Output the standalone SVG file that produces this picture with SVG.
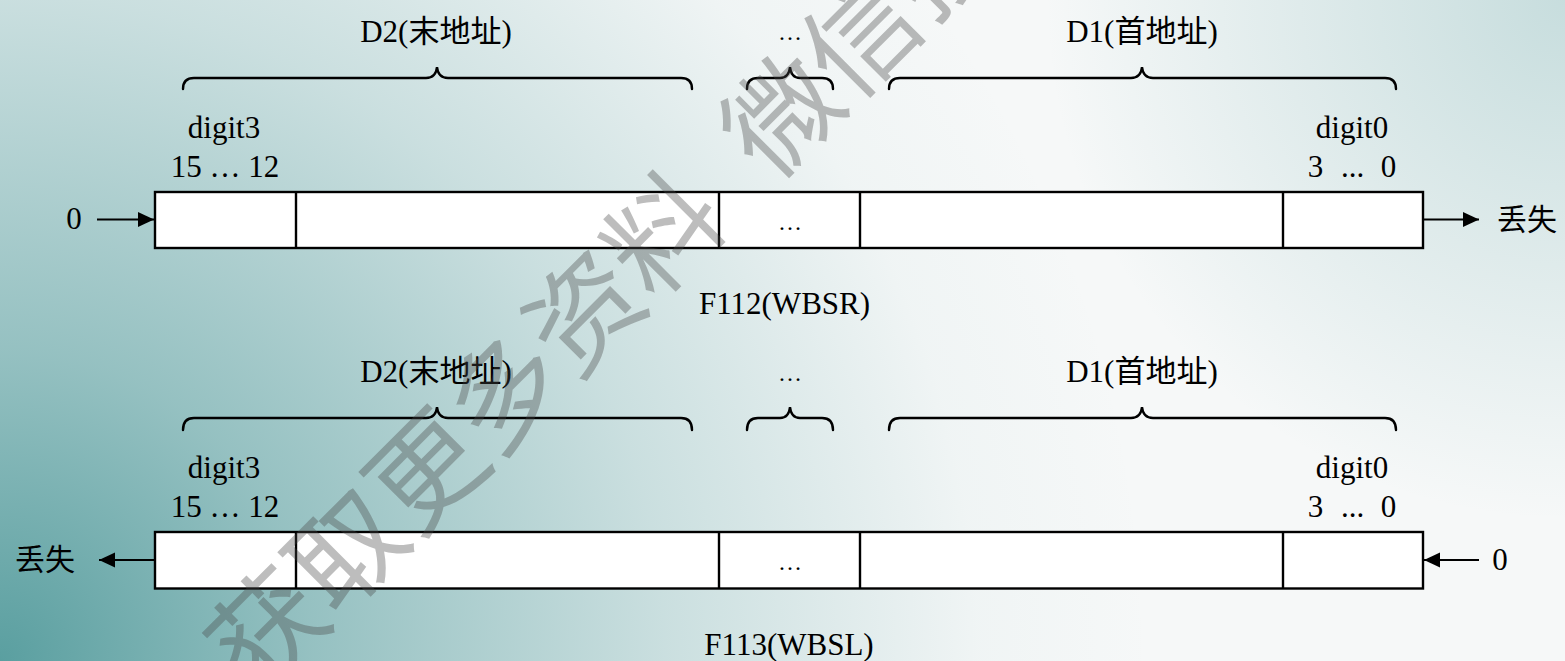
<svg xmlns="http://www.w3.org/2000/svg" width="1565" height="661" viewBox="0 0 1565 661">
<style>
.t{font-family:"Liberation Serif","Noto Sans CJK SC",serif;font-size:31px;fill:#000;text-anchor:middle}
.cjk{font-family:"Noto Sans CJK SC","Liberation Serif",sans-serif;font-size:30px;fill:#000;text-anchor:middle}
.sm{font-family:"Liberation Serif",serif;font-size:24px;fill:#000;text-anchor:middle}
.cell{fill:#fff;stroke:#000;stroke-width:2.4}
.div{stroke:#000;stroke-width:2.4;fill:none}
.brace{fill:none;stroke:#000;stroke-width:2.4;stroke-linecap:round}
.conn{stroke:#000;stroke-width:2.2;fill:none}
.wm{font-family:"Noto Sans CJK SC",sans-serif;font-size:112px;fill:#484848;fill-opacity:0.36}
</style>
<defs>
<radialGradient id="bgBL" gradientUnits="userSpaceOnUse" cx="0" cy="661" r="1150">
<stop offset="0" stop-color="#5a9fa0" stop-opacity="1"/>
<stop offset="0.27" stop-color="#5a9fa0" stop-opacity="0.62"/>
<stop offset="0.58" stop-color="#5a9fa0" stop-opacity="0.28"/>
<stop offset="0.85" stop-color="#5a9fa0" stop-opacity="0.04"/>
<stop offset="1" stop-color="#5a9fa0" stop-opacity="0"/>
</radialGradient>
<radialGradient id="bgTR" gradientUnits="userSpaceOnUse" cx="1565" cy="0" r="520">
<stop offset="0" stop-color="#5a9fa0" stop-opacity="0.3"/>
<stop offset="1" stop-color="#5a9fa0" stop-opacity="0"/>
</radialGradient>
<marker id="ah" markerWidth="17" markerHeight="17" viewBox="0 0 17 17" refX="16" refY="8.5" orient="auto" markerUnits="userSpaceOnUse">
<path d="M0,1 L16,8.5 L0,16 Z" fill="#000"/>
</marker>
</defs>
<rect x="0" y="0" width="1565" height="661" fill="#f6f8f8"/>
<rect x="0" y="0" width="1565" height="661" fill="url(#bgBL)"/>
<rect x="0" y="0" width="1565" height="661" fill="url(#bgTR)"/>

<g id="wbsr-register">
<rect class="cell" x="155" y="192" width="1268" height="56"/>
<line class="div" x1="296" y1="192" x2="296" y2="248"/>
<line class="div" x1="719" y1="192" x2="719" y2="248"/>
<line class="div" x1="860" y1="192" x2="860" y2="248"/>
<line class="div" x1="1283" y1="192" x2="1283" y2="248"/>
<text class="sm" x="790" y="230">…</text>
<text class="t" x="784.5" y="314">F112(WBSR)</text>
</g>
<g id="wbsr-labels">
<path class="brace" d="M183,89 Q183,78 194,78 L426,78 Q436,78 437,67 Q438,78 448,78 L681,78 Q692,78 692,89"/>
<path class="brace" d="M747,89 Q747,78 758,78 L780,78 Q789,78 790,67 Q791,78 800,78 L822,78 Q833,78 833,89"/>
<path class="brace" d="M889,89 Q889,78 900,78 L1131,78 Q1141,78 1142,67 Q1143,78 1153,78 L1385,78 Q1396,78 1396,89"/>
<text class="t" x="436" y="42">D2(末地址)</text>
<text class="sm" x="790" y="40">…</text>
<text class="t" x="1142" y="42">D1(首地址)</text>
<text class="t" x="224" y="138">digit3</text>
<text class="t" x="225" y="177">15 … 12</text>
<text class="t" x="1352" y="138">digit0</text>
<text class="t" y="177"><tspan x="1315.5">3</tspan><tspan x="1352.5">...</tspan><tspan x="1388.5">0</tspan></text>
<text class="t" x="74" y="229">0</text>
<text class="cjk" x="1527" y="230">丢失</text>
</g>

<g id="wbsl-register">
<rect class="cell" x="155" y="532" width="1268" height="56.5"/>
<line class="div" x1="296" y1="532" x2="296" y2="588.5"/>
<line class="div" x1="719" y1="532" x2="719" y2="588.5"/>
<line class="div" x1="860" y1="532" x2="860" y2="588.5"/>
<line class="div" x1="1283" y1="532" x2="1283" y2="588.5"/>
<text class="sm" x="790" y="570">…</text>
<text class="t" x="789" y="655">F113(WBSL)</text>
</g>
<g id="wbsl-labels">
<path class="brace" d="M183,430 Q183,418 194,418 L426,418 Q436,418 437,407 Q438,418 448,418 L681,418 Q692,418 692,430"/>
<path class="brace" d="M747,430 Q747,418 758,418 L780,418 Q789,418 790,407 Q791,418 800,418 L822,418 Q833,418 833,430"/>
<path class="brace" d="M889,430 Q889,418 900,418 L1131,418 Q1141,418 1142,407 Q1143,418 1153,418 L1385,418 Q1396,418 1396,430"/>
<text class="t" x="436" y="382">D2(末地址)</text>
<text class="sm" x="790" y="381">…</text>
<text class="t" x="1142" y="382">D1(首地址)</text>
<text class="t" x="224" y="478">digit3</text>
<text class="t" x="225" y="517">15 … 12</text>
<text class="t" x="1352" y="478">digit0</text>
<text class="t" y="517"><tspan x="1315.5">3</tspan><tspan x="1352.5">...</tspan><tspan x="1388.5">0</tspan></text>
<text class="cjk" x="45" y="570">丢失</text>
<text class="t" x="1500" y="570">0</text>
</g>

<g id="connectors">
<line class="conn" x1="97" y1="219.5" x2="154" y2="219.5" marker-end="url(#ah)"/>
<line class="conn" x1="1424" y1="219.5" x2="1479" y2="219.5" marker-end="url(#ah)"/>
<line class="conn" x1="154" y1="560" x2="99" y2="560" marker-end="url(#ah)"/>
<line class="conn" x1="1479" y1="560" x2="1424" y2="560" marker-end="url(#ah)"/>
</g>

<text class="wm" transform="translate(257,698) rotate(-45)">获取更多资料 <tspan dx="30">微信搜</tspan></text>
</svg>
